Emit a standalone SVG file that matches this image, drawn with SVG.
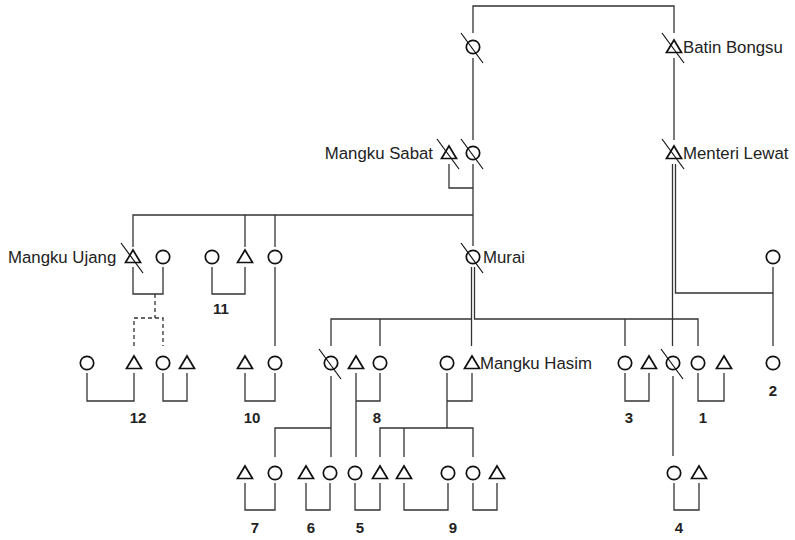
<svg xmlns="http://www.w3.org/2000/svg" xmlns:xlink="http://www.w3.org/1999/xlink" width="795" height="540" viewBox="0 0 795 540">
<style>
.ln{fill:none;stroke:#333;stroke-width:1.3}
.ds{fill:none;stroke:#333;stroke-width:1.3;stroke-dasharray:4,3}
.sym{fill:none;stroke:#111;stroke-width:1.7}
.sl{stroke:#111;stroke-width:1.2}
.nm{font-family:"Liberation Sans",Arial,sans-serif;font-size:16.8px;fill:#222}
.lb{font-family:"Liberation Sans",Arial,sans-serif;font-size:15px;font-weight:bold;fill:#222;text-anchor:middle}
</style>
<defs>
<circle id="f" r="6.7" class="sym"/>
<path id="m" d="M0,-7 L7.5,5.5 L-7.5,5.5 Z" class="sym"/>
<line id="x" x1="-12" y1="-14" x2="10" y2="16" class="sl"/>
</defs>
<rect width="795" height="540" fill="#fff"/>
<g id="connectors">
<path class="ln" d="M473,33 V6 H674 V33"/>
<path class="ln" d="M473,58 V140"/>
<path class="ln" d="M674,58 V140"/>
<path class="ln" d="M449,164 V188 H473"/>
<path class="ln" d="M473,164 V246"/>
<path class="ln" d="M133,247 V215 H473"/>
<path class="ln" d="M245,215 V247 M275,215 V247"/>
<path class="ln" d="M471.5,267 V346"/>
<path class="ln" d="M474.5,267 V319 H698 V346"/>
<path class="ln" d="M331,346 V319 H471.5"/>
<path class="ln" d="M380,319 V346 M625,319 V346"/>
<path class="ln" d="M672.5,164 V346"/>
<path class="ln" d="M675.5,164 V293 H773"/>
<path class="ln" d="M773,267 V346"/>
<path class="ln" d="M133,267 V294 H163 V267"/>
<path class="ln" d="M212,267 V294 H245 V267"/>
<path class="ln" d="M275,267 V346"/>
<path class="ds" d="M155,294 V318 M134,346 V318 H163 V346"/>
<path class="ln" d="M87,373 V401 H134 V373"/>
<path class="ln" d="M163,373 V401 H187 V373"/>
<path class="ln" d="M245,373 V401 H275 V373"/>
<path class="ln" d="M356,373 V457 M356,401 H380 V373"/>
<path class="ln" d="M447,373 V428 M447,401 H472 V373"/>
<path class="ln" d="M625,373 V401 H649 V373"/>
<path class="ln" d="M698,373 V401 H724 V373"/>
<path class="ln" d="M331,376 V457 M275,457 V428 H331"/>
<path class="ln" d="M380,457 V428 H473 V457 M404,428 V457"/>
<path class="ln" d="M673,376 V456"/>
<path class="ln" d="M245,483 V510 H275 V483"/>
<path class="ln" d="M306,483 V510 H330 V483"/>
<path class="ln" d="M355,483 V510 H380 V483"/>
<path class="ln" d="M404,483 V510 H448 V483"/>
<path class="ln" d="M473,483 V510 H497 V483"/>
<path class="ln" d="M674,483 V510 H699 V483"/>
</g>
<g id="n-gen0-f"><use xlink:href="#f" x="473" y="47"/><use xlink:href="#x" x="473" y="47"/></g>
<g id="n-batin-bongsu"><use xlink:href="#m" x="674" y="47"/><use xlink:href="#x" x="674" y="47"/><text class="nm" x="683" y="53">Batin Bongsu</text></g>
<g id="n-mangku-sabat"><use xlink:href="#m" x="449" y="153"/><use xlink:href="#x" x="449" y="153"/><text class="nm" x="433" y="159" text-anchor="end">Mangku Sabat</text></g>
<g id="n-gen1-f"><use xlink:href="#f" x="473" y="153"/><use xlink:href="#x" x="473" y="153"/></g>
<g id="n-menteri-lewat"><use xlink:href="#m" x="674" y="153"/><use xlink:href="#x" x="674" y="153"/><text class="nm" x="683" y="159">Menteri Lewat</text></g>
<g id="n-mangku-ujang"><use xlink:href="#m" x="133" y="257"/><use xlink:href="#x" x="133" y="257"/><text class="nm" x="8" y="263">Mangku Ujang</text></g>
<g id="n-r2-f1"><use xlink:href="#f" x="163" y="257"/></g>
<g id="n-r2-f2"><use xlink:href="#f" x="212" y="257"/></g>
<g id="n-r2-m1"><use xlink:href="#m" x="245" y="257"/></g>
<g id="n-r2-f3"><use xlink:href="#f" x="275" y="257"/></g>
<g id="n-murai"><use xlink:href="#f" x="473" y="257"/><use xlink:href="#x" x="473" y="257"/><text class="nm" x="483" y="263">Murai</text></g>
<g id="n-r2-f4"><use xlink:href="#f" x="773" y="257"/></g>
<g id="n-r3-f1"><use xlink:href="#f" x="87" y="363"/></g>
<g id="n-r3-m1"><use xlink:href="#m" x="134" y="363"/></g>
<g id="n-r3-f2"><use xlink:href="#f" x="163" y="363"/></g>
<g id="n-r3-m2"><use xlink:href="#m" x="187" y="363"/></g>
<g id="n-r3-m3"><use xlink:href="#m" x="245" y="363"/></g>
<g id="n-r3-f3"><use xlink:href="#f" x="275" y="363"/></g>
<g id="n-r3-f4"><use xlink:href="#f" x="331" y="363"/><use xlink:href="#x" x="331" y="363"/></g>
<g id="n-r3-m4"><use xlink:href="#m" x="356" y="363"/></g>
<g id="n-r3-f5"><use xlink:href="#f" x="380" y="363"/></g>
<g id="n-r3-f6"><use xlink:href="#f" x="447" y="363"/></g>
<g id="n-mangku-hasim"><use xlink:href="#m" x="472" y="363"/><text class="nm" x="480" y="369">Mangku Hasim</text></g>
<g id="n-r3-f7"><use xlink:href="#f" x="625" y="363"/></g>
<g id="n-r3-m5"><use xlink:href="#m" x="649" y="363"/></g>
<g id="n-r3-f8"><use xlink:href="#f" x="673" y="363"/><use xlink:href="#x" x="673" y="363"/></g>
<g id="n-r3-f9"><use xlink:href="#f" x="698" y="363"/></g>
<g id="n-r3-m6"><use xlink:href="#m" x="724" y="363"/></g>
<g id="n-r3-f10"><use xlink:href="#f" x="773" y="363"/></g>
<g id="n-r4-m1"><use xlink:href="#m" x="245" y="473"/></g>
<g id="n-r4-f1"><use xlink:href="#f" x="275" y="473"/></g>
<g id="n-r4-m2"><use xlink:href="#m" x="306" y="473"/></g>
<g id="n-r4-f2"><use xlink:href="#f" x="330" y="473"/></g>
<g id="n-r4-f3"><use xlink:href="#f" x="355" y="473"/></g>
<g id="n-r4-m3"><use xlink:href="#m" x="380" y="473"/></g>
<g id="n-r4-m4"><use xlink:href="#m" x="404" y="473"/></g>
<g id="n-r4-f4"><use xlink:href="#f" x="448" y="473"/></g>
<g id="n-r4-f5"><use xlink:href="#f" x="473" y="473"/></g>
<g id="n-r4-m5"><use xlink:href="#m" x="497" y="473"/></g>
<g id="n-r4-f6"><use xlink:href="#f" x="674" y="473"/></g>
<g id="n-r4-m6"><use xlink:href="#m" x="699" y="473"/></g>
<g id="labels">
<text class="lb" x="221" y="314">11</text>
<text class="lb" x="138" y="423">12</text>
<text class="lb" x="252" y="423">10</text>
<text class="lb" x="377" y="423">8</text>
<text class="lb" x="629" y="423">3</text>
<text class="lb" x="703" y="423">1</text>
<text class="lb" x="773" y="396">2</text>
<text class="lb" x="255" y="533">7</text>
<text class="lb" x="311" y="533">6</text>
<text class="lb" x="360" y="533">5</text>
<text class="lb" x="453" y="533">9</text>
<text class="lb" x="679" y="533">4</text>
</g>
</svg>
